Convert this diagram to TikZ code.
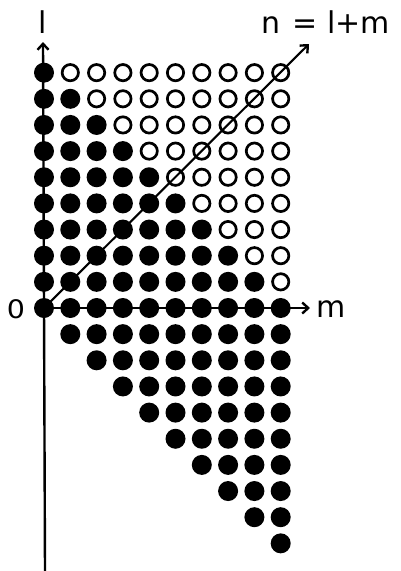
\documentclass[tikz,border=0pt]{standalone}
\usepackage{fontspec}
\usepackage{graphicx}
\setmainfont{DejaVu Sans}
\usetikzlibrary{arrows.meta}
\begin{document}
\begin{tikzpicture}[x=1pt,y=-1pt,
  full/.style={circle,fill=black,inner sep=0pt,minimum size=20pt},
  hollow/.style={circle,draw=black,line width=2.7pt,inner sep=0pt,minimum size=16.3pt},
  axis/.style={line width=2.4pt,-{Straight Barb[length=6pt,width=11pt,line width=2.4pt]}},
  lab/.style={font=\fontsize{30}{30}\selectfont,inner sep=0pt}]
\useasboundingbox (0,0) rectangle (400,571);
\coordinate (O) at (44,308);
\coordinate (ltip) at (43,42);
\coordinate (mtip) at (310,308);
\coordinate (ntip) at (309,44);
\coordinate (lbot) at (45,571);
\draw[axis] (lbot) -- (ltip);
\draw[axis] (O) -- (mtip);
\draw[axis, line width=2.1pt] (O) -- (ntip);
\foreach \l in {0,...,9}{
  \foreach \m in {0,...,9}{
    \pgfmathtruncatemacro\s{\l+\m}
    \ifnum\s>9
      \node[hollow] (d\m-\l) at ({44+26.3*\m},{308-26.15*\l}) {};
    \else
      \node[full] (d\m-\l) at ({44+26.3*\m},{308-26.15*\l}) {};
    \fi
  }
}
\foreach \k in {1,...,9}{
  \foreach \m in {\k,...,9}{
    \node[full] (u\m-\k) at ({44+26.3*\m},{308+26.15*\k}) {};
  }
}
\node[lab] (llab) at (43,22) {l};
\node[lab] (mlab) at (331,309) {m};
\node[lab] (zero) at (16,309) {\scalebox{0.95}[0.85]{0}};
\node[lab,anchor=base west] (nlab) at (261,33) {n\hspace{12pt}=\hspace{10pt}l+m};
\end{tikzpicture}
\end{document}
